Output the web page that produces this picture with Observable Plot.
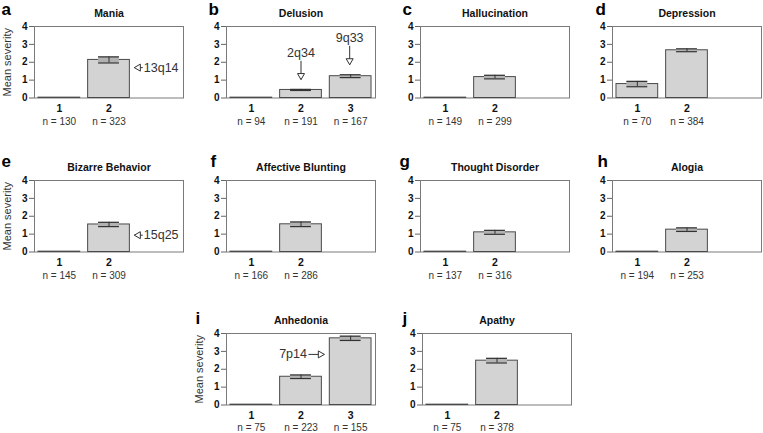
<!DOCTYPE html>
<html>
<head>
<meta charset="utf-8">
<script src="https://cdn.jsdelivr.net/npm/d3@7"></script>
<script src="https://cdn.jsdelivr.net/npm/@observablehq/plot@0.6"></script>
<style>
  html, body { margin: 0; padding: 0; background: #fff; }
  #chart { position: relative; width: 763px; height: 433px; overflow: hidden; background: #fff; }
  #chart svg { position: absolute; }
</style>
</head>
<body>
<div id="chart"></div>
<script>
// ---------- data ----------
const panelIds = ["a","b","c","d","e","f","g","h","i","j"];
const titles = ["Mania","Delusion","Hallucination","Depression","Bizarre Behavior","Affective Blunting","Thought Disorder","Alogia","Anhedonia","Apathy"];
const groups = [[1,2],[1,2,3],[1,2],[1,2],[1,2],[1,2],[1,2],[1,2],[1,2,3],[1,2]];
const means  = [[0.02,2.13],[0.02,0.45,1.22],[0.02,1.17],[0.78,2.67],[0.02,1.54],[0.02,1.55],[0.02,1.10],[0.02,1.25],[0.02,1.58,3.73],[0.02,2.48]];
const errors = [[0,0.17],[0,0.03,0.08],[0,0.10],[0.15,0.08],[0,0.12],[0,0.13],[0,0.11],[0,0.10],[0,0.10,0.12],[0,0.13]];
const ns     = [[130,323],[94,191,167],[149,299],[70,384],[145,309],[166,286],[137,316],[194,253],[75,223,155],[75,378]];
const yTicks = [0,1,2,3,4];
const yLabel = "Mean severity";
const yLabelPanels = ["a","e","i"];
// arrows: from (x1,y1) tail to (x2,y2) tip, in data units
const annotations = [
  {panel:"a", label:"13q14", x1:2.68, y1:1.70, x2:2.51, y2:1.70},
  {panel:"b", label:"2q34",  x1:2.00, y1:2.08, x2:2.00, y2:1.03},
  {panel:"b", label:"9q33",  x1:2.98, y1:2.92, x2:2.98, y2:1.86},
  {panel:"e", label:"15q25", x1:2.68, y1:0.94, x2:2.51, y2:0.94},
  {panel:"i", label:"7p14",  x1:2.15, y1:2.83, x2:2.47, y2:2.83}
];

// ---------- layout (styling only) ----------
const layout = [
  {left:33.5, top:26, ldx:-33, ldy:-16.5}, {left:226, top:26, ldx:-18, ldy:-16.5},
  {left:419.5, top:26, ldx:-18, ldy:-16.5}, {left:612, top:26, ldx:-17, ldy:-16.5},
  {left:34, top:180, ldx:-33, ldy:-18.5}, {left:226, top:180, ldx:-16, ldy:-18.5},
  {left:419.5, top:180, ldx:-21, ldy:-18.5}, {left:612, top:180, ldx:-15, ldy:-18.5},
  {left:226, top:332.5, ldx:-31, ldy:-15}, {left:422, top:332.5, ldx:-20, ldy:-15}
];
const ML = 34, MT = 26, PW = 149, PH = 71.5, MR = 10, MB = 32;
const barHalf = 0.42, capHalf = 0.21;
const font = "'Liberation Sans', Arial, Helvetica, sans-serif";

const chart = document.getElementById("chart");

panelIds.forEach((id, i) => {
  const data = groups[i].map((g, j) => ({g, mean: means[i][j], err: errors[i][j], n: ns[i][j]}));
  const errData = data.filter(d => d.err > 0);
  const ann = annotations.filter(a => a.panel === id);
  const L = layout[i];
  const nDy = i >= 8 ? 22.5 : 23.5;

  const marks = [
    Plot.frame({stroke: "#7a7a7a"}),
    Plot.axisY({ticks: yTicks, tickFormat: d => String(d), tickSize: 5, tickPadding: 2, fontWeight: "bold", fontSize: 10, stroke: "#666", label: null}),
    Plot.rect(data, {x1: d => d.g - barHalf, x2: d => d.g + barHalf, y1: 0, y2: "mean", fill: "#d3d3d3", stroke: "#4a4a4a", strokeWidth: 1}),
    Plot.rect(errData, {x1: d => d.g - capHalf, x2: d => d.g + capHalf, y1: d => d.mean - d.err, y2: d => d.mean + d.err, fill: "#b2b2b2"}),
    Plot.ruleY(errData, {y: d => d.mean - d.err, x1: d => d.g - capHalf, x2: d => d.g + capHalf, stroke: "#333", strokeWidth: 1.2}),
    Plot.ruleY(errData, {y: d => d.mean + d.err, x1: d => d.g - capHalf, x2: d => d.g + capHalf, stroke: "#333", strokeWidth: 1.2}),
    Plot.ruleX(errData, {x: "g", y1: d => d.mean - d.err, y2: d => d.mean + d.err, stroke: "#333", strokeWidth: 1}),
    Plot.text(data, {x: "g", y: 0, text: d => String(d.g), dy: 11, fontWeight: "bold", fontSize: 10.5, fill: "#111"}),
    Plot.text(data, {x: "g", y: 0, text: d => `n = ${d.n}`, dy: nDy, fontSize: 10, fill: "#333"}),
    Plot.text([titles[i]], {frameAnchor: "top", text: d => d, dy: -13, lineAnchor: "middle", fontWeight: "bold", fontSize: 10.5, fill: "#111"}),
    Plot.text([id], {frameAnchor: "top-left", text: d => d, dx: L.ldx, dy: L.ldy, textAnchor: "start", lineAnchor: "middle", fontWeight: "bold", fontSize: 17, fill: "#000"})
  ];
  if (yLabelPanels.includes(id)) {
    marks.push(Plot.text([yLabel], {frameAnchor: "left", text: d => d, rotate: -90, dx: -27, textAnchor: "middle", lineAnchor: "middle", fontSize: 11, fill: "#333"}));
  }
  ann.forEach(a => {
    let rot, dx = 0, dy = 0, tOpts;
    if (a.x2 < a.x1) { rot = -90; dx = 4; tOpts = {textAnchor: "start", dx: 1}; }
    else if (a.x2 > a.x1) { rot = 90; dx = -4; tOpts = {textAnchor: "end", dx: -1.5}; }
    else { rot = 180; dy = -4; tOpts = {textAnchor: "middle", dy: -7.5}; }
    marks.push(Plot.link([a], {x1: "x1", y1: "y1", x2: "x2", y2: "y2", stroke: "#333", strokeWidth: 1}));
    marks.push(Plot.dot([a], {x: "x2", y: "y2", symbol: "triangle", r: 2.6, rotate: rot, dx, dy, fill: "white", stroke: "#333", strokeWidth: 1}));
    marks.push(Plot.text([a], {x: "x1", y: "y1", text: "label", fontSize: 12.5, fill: "#333", lineAnchor: "middle", ...tOpts}));
  });

  const svg = Plot.plot({
    width: ML + PW + MR,
    height: MT + PH + MB,
    marginLeft: ML, marginRight: MR, marginTop: MT, marginBottom: MB,
    x: {type: "linear", domain: [0.5, 3.5], axis: null},
    y: {type: "linear", domain: [0, 4]},
    style: {fontFamily: font, background: "transparent", overflow: "visible", color: "#111"},
    marks
  });
  svg.style.left = (L.left - ML) + "px";
  svg.style.top = (L.top - MT) + "px";
  chart.appendChild(svg);
});
</script>
</body>
</html>
